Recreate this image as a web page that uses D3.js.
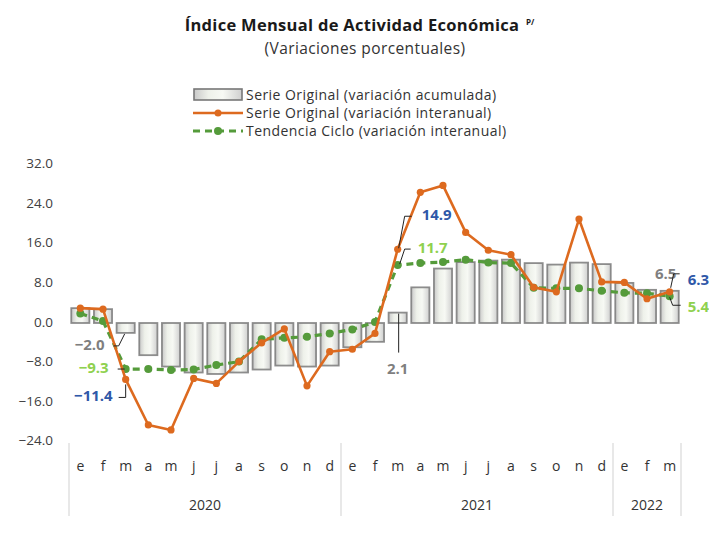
<!DOCTYPE html>
<html>
<head>
	<meta charset="utf-8">
	<title>IMAE</title>
	<style>
	body { margin: 0; background: #fff; }
	svg text { font-family: "Open Sans", "Noto Sans", sans-serif; }
	.tick-y { font-size: 13.5px; fill: #404040; text-anchor: end; dominant-baseline: middle; }
	.mes { font-size: 14px; fill: #333; text-anchor: middle; }
	.anio { font-size: 14px; fill: #333; text-anchor: middle; }
	.leyenda { font-size: 14px; letter-spacing: 0.45px; fill: #333; dominant-baseline: middle; }
	.etiq { font-size: 15px; font-weight: bold; dominant-baseline: middle; }
	</style>
	<script src="https://d3js.org/d3.v7.min.js"></script>
</head>
<body>
	<script type="text/javascript">
		// datos
		var meses = ['e','f','m','a','m','j','j','a','s','o','n','d',
			'e','f','m','a','m','j','j','a','s','o','n','d',
			'e','f','m'];
		var anios = ['2020', '2021', '2022'];
		var mesesPorAnio = [12, 12, 3];
		var yTicks = [32, 24, 16, 8, 0, -8, -16, -24];

		// Serie Original (variación acumulada)
		var acumulada = [3.0, 2.8, -2.0, -6.5, -8.8, -10.0, -10.3, -10.0, -9.4, -8.6, -8.8, -8.6,
			-4.9, -3.8, 2.1, 7.2, 11.0, 12.3, 12.6, 12.8, 12.1, 11.8, 12.2, 11.9,
			8.1, 6.7, 6.5];
		// Serie Original (variación interanual)
		var interanual = [3.0, 2.8, -11.4, -20.6, -21.6, -11.2, -12.2, -7.8, -4.0, -1.2, -12.7, -5.8,
			-5.3, -2.1, 14.9, 26.4, 27.8, 18.3, 14.7, 13.8, 7.2, 6.3, 21.0, 8.3,
			8.2, 4.9, 6.3];
		// Tendencia Ciclo (variación interanual)
		var tendencia = [1.9, 0.4, -9.3, -9.3, -9.5, -9.4, -8.5, -7.8, -3.3, -3.0, -2.8, -2.1,
			-1.3, 0.2, 11.7, 12.1, 12.3, 12.8, 12.2, 12.1, 7.1, 7.0, 7.0, 6.5,
			6.1, 6.0, 5.4];

		var width = 709, height = 536;
		var naranja = '#dd6a1f', verde = '#559b3b';

		var svg = d3.select('body').append('svg')
			.attr('width', width)
			.attr('height', height);

		var idx = d3.range(meses.length);

		var x = d3.scaleBand()
			.domain(idx)
			.range([69, 681])
			.paddingInner(0.2)
			.paddingOuter(0.1);

		var y = d3.scaleLinear()
			.domain([-24, 32])
			.range([441.8, 164.6]);

		function cx(i) { return x(i) + x.bandwidth() / 2; }

		// degradado de las barras
		var defs = svg.append('defs');
		var grad = defs.append('linearGradient')
			.attr('id', 'gradBar')
			.attr('x1', '0%').attr('x2', '100%')
			.attr('y1', '0%').attr('y2', '0%');
		grad.append('stop').attr('offset', '0%').attr('stop-color', '#c9c9c9');
		grad.append('stop').attr('offset', '30%').attr('stop-color', '#eef1ea');
		grad.append('stop').attr('offset', '60%').attr('stop-color', '#f7f9f4');
		grad.append('stop').attr('offset', '100%').attr('stop-color', '#cfcfcf');

		// título
		svg.append('text')
			.attr('x', 352)
			.attr('y', 31)
			.attr('text-anchor', 'middle')
			.style('font-size', '16.5px')
			.style('letter-spacing', '0.3px')
			.style('font-weight', 'bold')
			.style('fill', '#1a1a1a')
			.text('Índice Mensual de Actividad Económica');
		svg.append('text')
			.attr('x', 526)
			.attr('y', 25)
			.style('font-size', '8px')
			.style('font-weight', 'bold')
			.style('fill', '#1a1a1a')
			.text('P/');
		svg.append('text')
			.attr('x', 365)
			.attr('y', 54)
			.attr('text-anchor', 'middle')
			.style('font-size', '15.5px')
			.style('letter-spacing', '0.4px')
			.style('fill', '#333')
			.text('(Variaciones porcentuales)');

		// leyenda
		var ley = svg.append('g');
		ley.append('rect')
			.attr('x', 194).attr('y', 89)
			.attr('width', 48).attr('height', 11)
			.attr('fill', 'url(#gradBar)')
			.attr('stroke', '#777')
			.attr('stroke-width', 1.6);
		ley.append('line')
			.attr('x1', 193).attr('x2', 243)
			.attr('y1', 113).attr('y2', 113)
			.attr('stroke', naranja).attr('stroke-width', 2.5);
		ley.append('circle').attr('cx', 218).attr('cy', 113).attr('r', 3.5).attr('fill', naranja);
		ley.append('line')
			.attr('x1', 193).attr('x2', 243)
			.attr('y1', 131).attr('y2', 131)
			.attr('stroke', verde).attr('stroke-width', 3)
			.attr('stroke-dasharray', '7,5');
		ley.append('circle').attr('cx', 218).attr('cy', 131).attr('r', 4).attr('fill', verde);
		var textosLey = ['Serie Original (variación acumulada)',
			'Serie Original (variación interanual)',
			'Tendencia Ciclo (variación interanual)'];
		ley.selectAll('text.leyenda')
			.data(textosLey)
			.enter()
			.append('text')
			.attr('class', 'leyenda')
			.attr('x', 246)
			.attr('y', function (d, i) { return 96 + i * 18; })
			.text(function (d) { return d; });

		// eje y (solo etiquetas)
		svg.selectAll('text.tick-y')
			.data(yTicks)
			.enter()
			.append('text')
			.attr('class', 'tick-y')
			.attr('x', 53)
			.attr('y', function (d) { return y(d); })
			.text(function (d) { return d3.format('.1f')(d); });

		// barras
		svg.selectAll('rect.barra')
			.data(acumulada)
			.enter()
			.append('rect')
			.attr('class', 'barra')
			.attr('x', function (d, i) { return x(i); })
			.attr('width', x.bandwidth())
			.attr('y', function (d) { return y(Math.max(0, d)); })
			.attr('height', function (d) { return Math.abs(y(d) - y(0)); })
			.attr('fill', 'url(#gradBar)')
			.attr('stroke', '#7a7a7a')
			.attr('stroke-width', 1.8)
			.attr('stroke-opacity', 0.85);

		// línea de tendencia (discontinua)
		var linea = d3.line()
			.x(function (d, i) { return cx(i); })
			.y(function (d) { return y(d); });

		svg.append('path')
			.datum(tendencia)
			.attr('d', linea)
			.attr('fill', 'none')
			.attr('stroke', verde)
			.attr('stroke-width', 3.2)
			.attr('stroke-dasharray', '7,5');
		svg.selectAll('circle.tend')
			.data(tendencia)
			.enter()
			.append('circle')
			.attr('class', 'tend')
			.attr('cx', function (d, i) { return cx(i); })
			.attr('cy', function (d) { return y(d); })
			.attr('r', 4)
			.attr('fill', verde);

		// línea interanual
		svg.append('path')
			.datum(interanual)
			.attr('d', linea)
			.attr('fill', 'none')
			.attr('stroke', naranja)
			.attr('stroke-width', 2.6)
			.attr('stroke-linejoin', 'round');
		svg.selectAll('circle.inter')
			.data(interanual)
			.enter()
			.append('circle')
			.attr('class', 'inter')
			.attr('cx', function (d, i) { return cx(i); })
			.attr('cy', function (d) { return y(d); })
			.attr('r', 3.6)
			.attr('fill', naranja);

		// etiquetas de valores
		var gris = '#7f7f7f', azul = '#2f58a8', verdeClaro = '#8fd14f';
		var fmt = d3.format('.1f');
		function etiqueta(serie, i, color, dx, dy, anchor, guia) {
			var px = cx(i), py = y(serie[i]);
			svg.append('text')
				.attr('class', 'etiq')
				.attr('x', px + dx)
				.attr('y', py + dy)
				.attr('text-anchor', anchor)
				.style('fill', color)
				.text(fmt(serie[i]));
			var d = guia(px, py);
			if (d) {
				svg.append('path')
					.attr('d', d)
					.attr('fill', 'none')
					.attr('stroke', '#222')
					.attr('stroke-width', 1);
			}
		}

		etiqueta(acumulada, 2, gris, -21, 13, 'end', function (px, py) {
			return 'M' + (px - 12) + ',' + (py + 13) + 'H' + (px - 7) + 'L' + (px - 1) + ',' + (py + 1);
		});
		etiqueta(tendencia, 2, verdeClaro, -17, 0, 'end', function (px, py) {
			return 'M' + (px - 8) + ',' + py + 'H' + (px - 1);
		});
		etiqueta(interanual, 2, azul, -13, 18, 'end', function (px, py) {
			return 'M' + (px - 7) + ',' + (py + 18) + 'H' + px + 'V' + (py + 5);
		});
		etiqueta(interanual, 14, azul, 24, -33, 'start', function (px, py) {
			return 'M' + (px + 14) + ',' + (py - 33) + 'H' + (px + 7) + 'L' + (px + 1) + ',' + (py - 1);
		});
		etiqueta(tendencia, 14, verdeClaro, 20, -16, 'start', function (px, py) {
			return 'M' + (px + 13) + ',' + (py - 16) + 'H' + (px + 7) + 'L' + (px + 2) + ',' + (py - 1);
		});
		etiqueta(acumulada, 14, gris, 0, 57, 'middle', function (px, py) {
			return 'M' + (px + 1) + ',' + (py + 1) + 'V' + (py + 40);
		});
		etiqueta(acumulada, 26, gris, -4, -16, 'middle', function (px, py) {
			return 'M' + (px + 1) + ',' + (py - 3) + 'L' + (px + 4) + ',' + (py - 17) + 'H' + (px + 10);
		});
		etiqueta(interanual, 26, azul, 18, -11, 'start', function () {
			return '';
		});
		etiqueta(tendencia, 26, verdeClaro, 18, 12, 'start', function (px, py) {
			return 'M' + px + ',' + (py + 1) + 'L' + (px + 3) + ',' + (py + 9) + 'H' + (px + 11);
		});

		// eje x: meses y años
		svg.selectAll('text.mes')
			.data(meses)
			.enter()
			.append('text')
			.attr('class', 'mes')
			.attr('x', function (d, i) { return cx(i); })
			.attr('y', 471)
			.text(function (d) { return d; });

		var inicio = 0;
		var separadores = [x.range()[0]];
		anios.forEach(function (a, k) {
			var fin = inicio + mesesPorAnio[k];
			var x0 = x(inicio) - x.step() * x.paddingInner() / 2;
			var x1 = x(fin - 1) + x.bandwidth() + x.step() * x.paddingInner() / 2;
			if (k === 0) x0 = x.range()[0];
			if (k === anios.length - 1) x1 = x.range()[1];
			svg.append('text')
				.attr('class', 'anio')
				.attr('x', (x0 + x1) / 2)
				.attr('y', 510)
				.text(a);
			separadores.push(x1);
			inicio = fin;
		});
		svg.selectAll('line.sep')
			.data(separadores)
			.enter()
			.append('line')
			.attr('class', 'sep')
			.attr('x1', function (d) { return d; })
			.attr('x2', function (d) { return d; })
			.attr('y1', 443)
			.attr('y2', 516)
			.attr('stroke', '#d9d9d9')
			.attr('stroke-width', 1.2);
	</script>
</body>
</html>
